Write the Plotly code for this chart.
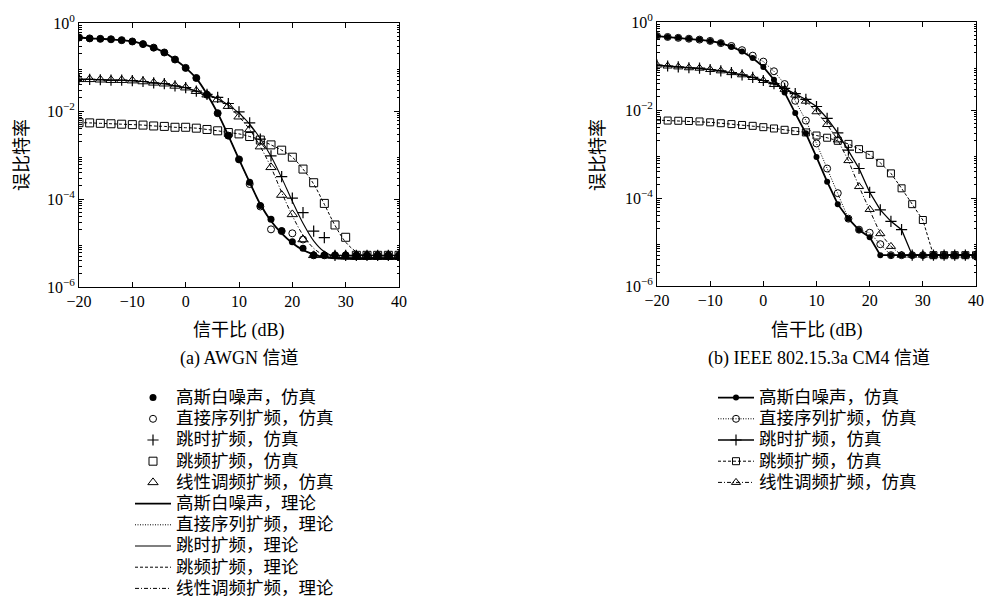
import plotly.graph_objects as go

# ---------------- data (BER given as log10 exponents) ----------------
snr_db = [-20, -18, -16, -14, -12, -10, -8, -6, -4, -2, 0, 2, 4, 6, 8, 10, 12, 14, 16, 18,
          20, 22, 24, 26, 28, 30, 32, 34, 36, 38, 40]

# (a) AWGN channel - simulation
a_awgn_sim = [-0.33, -0.35, -0.36, -0.37, -0.39, -0.42, -0.48, -0.56, -0.67, -0.83, -1.02, -1.25, -1.63, -2.05, -2.56, -3.10,
              -3.62, -4.15, -4.46, -4.72, -4.97, -5.12, -5.28, -5.28, -5.28, -5.28, -5.28, -5.28, -5.28, -5.28, -5.28]
a_ds_sim = [-0.33, -0.35, -0.36, -0.37, -0.39, -0.42, -0.48, -0.56, -0.67, -0.83, -1.02, -1.25, -1.63, -2.05, -2.56, -3.10,
            -3.66, -4.17, -4.69, -4.73, -4.78, -4.92, -5.28, -5.28, -5.28, -5.28, -5.28, -5.28, -5.28, -5.28, -5.28]
a_th_sim = [-1.28, -1.28, -1.29, -1.30, -1.30, -1.31, -1.33, -1.36, -1.38, -1.43, -1.47, -1.55, -1.62, -1.69, -1.83, -2.02,
            -2.27, -2.64, -3.02, -3.49, -3.98, -4.31, -4.73, -4.88, -5.28, -5.28, -5.28, -5.28, -5.28, -5.28, -5.28]
a_fh_sim = [-2.265, -2.27, -2.28, -2.29, -2.30, -2.31, -2.32, -2.34, -2.35, -2.37, -2.37, -2.39, -2.42, -2.45, -2.49, -2.52,
            -2.58, -2.66, -2.77, -2.89, -3.05, -3.32, -3.63, -4.10, -4.59, -4.87, -5.28, -5.28, -5.28, -5.28, -5.28]
a_chirp_sim = [-1.28, -1.28, -1.29, -1.30, -1.30, -1.31, -1.33, -1.36, -1.38, -1.43, -1.47, -1.55, -1.63, -1.74, -1.89, -2.13,
               -2.42, -2.81, -3.28, -3.91, -4.35, -4.92, -5.28, -5.28, -5.28, -5.28, -5.28, -5.28, -5.28, -5.28, -5.28]

# (a) AWGN channel - theory
a_awgn_th = [-0.33, -0.35, -0.36, -0.37, -0.39, -0.42, -0.48, -0.56, -0.67, -0.83, -1.02, -1.26, -1.62, -2.05, -2.56, -3.10,
             -3.62, -4.12, -4.50, -4.78, -5.00, -5.16, -5.26, -5.32, -5.35, -5.36, -5.36, -5.36, -5.36, -5.36, -5.36]
a_ds_th = [-0.33, -0.35, -0.36, -0.37, -0.39, -0.42, -0.48, -0.56, -0.67, -0.83, -1.02, -1.26, -1.62, -2.05, -2.56, -3.10,
           -3.63, -4.13, -4.51, -4.78, -5.00, -5.16, -5.26, -5.32, -5.35, -5.36, -5.36, -5.36, -5.36, -5.36, -5.36]
a_th_th = [-1.28, -1.28, -1.29, -1.30, -1.30, -1.31, -1.33, -1.36, -1.38, -1.43, -1.47, -1.55, -1.62, -1.72, -1.86, -2.05,
           -2.30, -2.63, -3.03, -3.52, -4.05, -4.55, -4.95, -5.20, -5.31, -5.35, -5.36, -5.36, -5.36, -5.36, -5.36]
a_fh_th = [-2.265, -2.27, -2.28, -2.29, -2.30, -2.31, -2.32, -2.34, -2.35, -2.37, -2.38, -2.39, -2.42, -2.45, -2.49, -2.52,
           -2.58, -2.66, -2.77, -2.89, -3.05, -3.32, -3.66, -4.12, -4.60, -4.98, -5.20, -5.31, -5.35, -5.36, -5.36]
a_chirp_th = [-1.28, -1.28, -1.29, -1.30, -1.30, -1.31, -1.33, -1.36, -1.38, -1.43, -1.47, -1.55, -1.63, -1.74, -1.89, -2.13,
              -2.42, -2.81, -3.28, -3.85, -4.38, -4.82, -5.12, -5.28, -5.34, -5.36, -5.36, -5.36, -5.36, -5.36, -5.36]

# (b) IEEE 802.15.3a CM4 channel - simulation
b_awgn_sim = [-0.32, -0.34, -0.36, -0.38, -0.40, -0.43, -0.48, -0.56, -0.67, -0.82, -1.02, -1.31, -1.60, -2.07, -2.53, -3.07,
              -3.63, -4.14, -4.47, -4.73, -4.89, -5.30, -5.30, -5.30, -5.30, -5.30, -5.30, -5.30, -5.30, -5.30, -5.30]
b_ds_sim = [-0.32, -0.34, -0.36, -0.38, -0.40, -0.43, -0.48, -0.545, -0.64, -0.765, -0.90, -1.12, -1.41, -1.79, -2.24, -2.76,
            -3.33, -3.89, -4.47, -4.72, -4.79, -5.05, -5.30, -5.30, -5.30, -5.30, -5.30, -5.30, -5.30, -5.30, -5.30]
b_th_sim = [-0.98, -1.00, -1.02, -1.04, -1.05, -1.08, -1.11, -1.15, -1.20, -1.26, -1.33, -1.40, -1.51, -1.63, -1.76, -1.92,
            -2.19, -2.52, -2.91, -3.33, -3.87, -4.27, -4.53, -4.72, -5.30, -5.30, -5.30, -5.30, -5.30, -5.30, -5.30]
b_fh_sim = [-2.23, -2.24, -2.245, -2.25, -2.26, -2.28, -2.30, -2.32, -2.34, -2.36, -2.39, -2.42, -2.45, -2.48, -2.51, -2.58,
            -2.63, -2.70, -2.77, -2.89, -3.02, -3.20, -3.44, -3.78, -4.14, -4.50, -5.30, -5.30, -5.30, -5.30, -5.30]
b_chirp_sim = [-0.98, -1.00, -1.02, -1.04, -1.05, -1.08, -1.11, -1.15, -1.20, -1.26, -1.33, -1.42, -1.53, -1.66, -1.80, -2.04,
               -2.33, -2.68, -3.15, -3.74, -4.26, -4.81, -5.10, -5.30, -5.30, -5.30, -5.30, -5.30, -5.30, -5.30, -5.30]

x_ticks = [-20, -10, 0, 10, 20, 30, 40]
x_tick_text = ["\u221220", "\u221210", "0", "10", "20", "30", "40"]
y_label_decades = [0, -2, -4, -6]
y_tick_text = ["10<sup>0</sup>", "10<sup>\u22122</sup>", "10<sup>\u22124</sup>", "10<sup>\u22126</sup>"]
y_odd_decades = [-1, -3, -5]

names_sim = ["高斯白噪声，仿真", "直接序列扩频，仿真", "跳时扩频，仿真", "跳频扩频，仿真", "线性调频扩频，仿真"]
names_th = ["高斯白噪声，理论", "直接序列扩频，理论", "跳时扩频，理论", "跳频扩频，理论", "线性调频扩频，理论"]

# ---------------- styling ----------------
SERIF = "Liberation Serif, 'Noto Sans CJK SC', serif"
BLACK = "black"


def ber(exps):
    return [10 ** e for e in exps]


def lg(t):
    return '<span style="font-size:17.5px">' + t + '</span>'


fig = go.Figure()

sim_markers = [
    dict(symbol="circle", size=7, color=BLACK),
    dict(symbol="circle-open", size=7, color=BLACK, line=dict(width=1, color=BLACK)),
    dict(symbol="cross-thin-open", size=8, color=BLACK, line=dict(width=1.2, color=BLACK)),
    dict(symbol="square-open", size=8, color=BLACK, line=dict(width=1, color=BLACK)),
    dict(symbol="triangle-up-open", size=9, color=BLACK, line=dict(width=1, color=BLACK)),
]
th_lines = [
    dict(color=BLACK, width=1.8, dash="solid"),
    dict(color=BLACK, width=1, dash="1px,1.5px"),
    dict(color=BLACK, width=1.1, dash="solid"),
    dict(color=BLACK, width=1, dash="3px,2px"),
    dict(color=BLACK, width=1, dash="4px,2px,1px,2px"),
]

a_th_all = [a_awgn_th, a_ds_th, a_th_th, a_fh_th, a_chirp_th]
a_sim_all = [a_awgn_sim, a_ds_sim, a_th_sim, a_fh_sim, a_chirp_sim]

# theory lines (drawn first, under markers)
for i, ys in enumerate(a_th_all):
    fig.add_trace(go.Scatter(x=snr_db, y=ber(ys), mode="lines", line=th_lines[i], line_shape="spline",
                             name=lg(names_th[i]), legend="legend", legendrank=6 + i,
                             xaxis="x", yaxis="y"))
for i, ys in enumerate(a_sim_all):
    fig.add_trace(go.Scatter(x=snr_db, y=ber(ys), mode="markers", marker=sim_markers[i],
                             name=lg(names_sim[i]), legend="legend", legendrank=1 + i,
                             xaxis="x", yaxis="y"))

# (b) lines + markers
b_all = [b_awgn_sim, b_ds_sim, b_th_sim, b_fh_sim, b_chirp_sim]
b_lines = [
    dict(color=BLACK, width=1.8, dash="solid"),
    dict(color=BLACK, width=1, dash="1px,1.5px"),
    dict(color=BLACK, width=1.3, dash="solid"),
    dict(color=BLACK, width=1, dash="3px,2px"),
    dict(color=BLACK, width=1, dash="4px,2px,1px,2px"),
]
b_markers = [
    dict(symbol="circle", size=6, color=BLACK),
    dict(symbol="circle-open", size=7, color=BLACK, line=dict(width=1, color=BLACK)),
    dict(symbol="cross-thin-open", size=8, color=BLACK, line=dict(width=1.2, color=BLACK)),
    dict(symbol="square-open", size=7, color=BLACK, line=dict(width=1, color=BLACK)),
    dict(symbol="triangle-up-open", size=8, color=BLACK, line=dict(width=1, color=BLACK)),
]
for i, ys in enumerate(b_all):
    fig.add_trace(go.Scatter(x=snr_db, y=ber(ys), mode="lines+markers", line=b_lines[i], marker=b_markers[i],
                             name=lg(names_sim[i]), legend="legend2", legendrank=1 + i,
                             xaxis="x2", yaxis="y2"))

minor_vals = [k * 10 ** n for n in range(-6, 0) for k in range(2, 10)]


def xax(domain, anchor):
    return dict(domain=domain, anchor=anchor, range=[-20, 40], tickmode="array", tickvals=x_ticks,
                ticktext=x_tick_text, ticks="inside", ticklen=5, tickcolor=BLACK, showline=True,
                linecolor=BLACK, linewidth=1, mirror="allticks", showgrid=False, zeroline=False,
                automargin=False, tickfont=dict(family=SERIF, size=16, color=BLACK))


def yax(domain, anchor):
    return dict(domain=domain, anchor=anchor, type="log", range=[-6, 0], tickmode="array",
                tickvals=[10 ** d for d in y_label_decades], ticktext=y_tick_text, ticks="inside", ticklen=5,
                tickcolor=BLACK, showline=True, linecolor=BLACK, linewidth=1, mirror="allticks",
                showgrid=False, zeroline=False, automargin=False,
                tickfont=dict(family=SERIF, size=16, color=BLACK),
                minor=dict(tickmode="array", tickvals=minor_vals, ticks="inside", ticklen=2.5,
                           tickcolor=BLACK, showgrid=False))


def yax_odd(overlay, anchor):
    # unlabelled major ticks at the odd decades
    return dict(overlaying=overlay, anchor=anchor, type="log", range=[-6, 0], tickmode="array",
                tickvals=[10 ** d for d in y_odd_decades], showticklabels=False, ticks="inside",
                ticklen=5, tickcolor=BLACK, showline=False, mirror="ticks", showgrid=False,
                zeroline=False, automargin=False, side="left")


W, H = 989, 599
fig.update_layout(
    width=W, height=H, autosize=False,
    margin=dict(l=0, r=0, t=0, b=0, autoexpand=False),
    paper_bgcolor="white", plot_bgcolor="white",
    font=dict(family=SERIF, color=BLACK),
    xaxis=xax([79 / W, 399 / W], "y"),
    yaxis=yax([1 - 287 / H, 1 - 23 / H], "x"),
    xaxis2=xax([657 / W, 976 / W], "y2"),
    yaxis2=yax([1 - 286 / H, 1 - 22 / H], "x2"),
    yaxis3=yax_odd("y", "x"),
    yaxis4=yax_odd("y2", "x2"),
    legend=dict(x=130 / W, xanchor="left", y=1 - 382 / H, yanchor="top", bgcolor="rgba(0,0,0,0)",
                font=dict(family=SERIF, size=14, color=BLACK), itemwidth=36, tracegroupgap=0),
    legend2=dict(x=713 / W, xanchor="left", y=1 - 382 / H, yanchor="top", bgcolor="rgba(0,0,0,0)",
                 font=dict(family=SERIF, size=14, color=BLACK), itemwidth=36, tracegroupgap=0),
    showlegend=True,
)

ann_font = dict(family=SERIF, size=18, color=BLACK)
fig.add_annotation(text="信干比 (dB)", x=239 / W, y=1 - 330 / H, xref="paper", yref="paper",
                   showarrow=False, font=ann_font, xanchor="center", yanchor="middle")
fig.add_annotation(text="信干比 (dB)", x=817 / W, y=1 - 330 / H, xref="paper", yref="paper",
                   showarrow=False, font=ann_font, xanchor="center", yanchor="middle")
fig.add_annotation(text="误比特率", x=22 / W, y=1 - 155 / H, xref="paper", yref="paper", textangle=-90,
                   showarrow=False, font=ann_font, xanchor="center", yanchor="middle")
fig.add_annotation(text="误比特率", x=598 / W, y=1 - 155 / H, xref="paper", yref="paper", textangle=-90,
                   showarrow=False, font=ann_font, xanchor="center", yanchor="middle")
fig.add_annotation(text="(a) AWGN 信道", x=239 / W, y=1 - 358 / H, xref="paper", yref="paper",
                   showarrow=False, font=ann_font, xanchor="center", yanchor="middle")
fig.add_annotation(text="(b) IEEE 802.15.3a CM4 信道", x=819 / W, y=1 - 358 / H, xref="paper", yref="paper",
                   showarrow=False, font=ann_font, xanchor="center", yanchor="middle")

fig.write_html("out.html", config={"displayModeBar": False},
               post_script="document.body.style.margin='0';document.body.style.padding='0';"
                           "document.body.style.overflow='hidden';")
